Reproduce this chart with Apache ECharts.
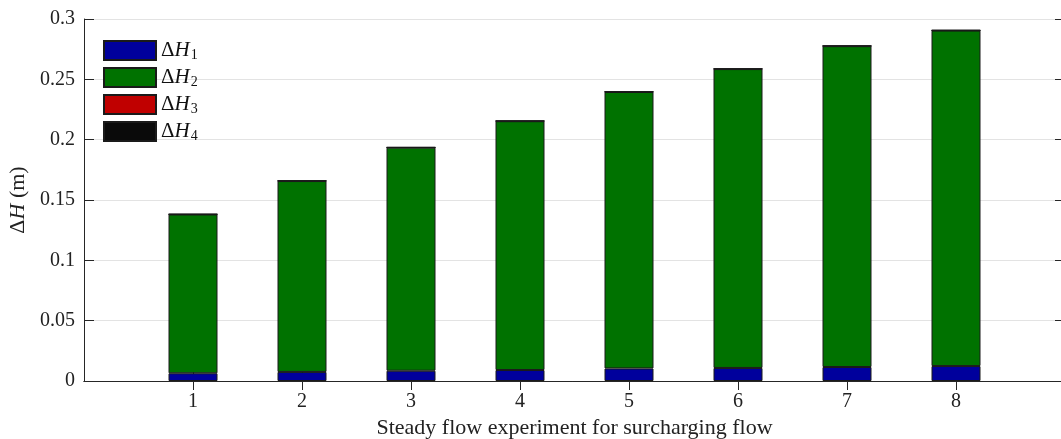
<!DOCTYPE html>
<html lang="en">
<head>
    <meta charset="utf-8">
    <title>dH stacked</title>
    <script src="https://cdn.jsdelivr.net/npm/echarts@6/dist/echarts.min.js"></script>
    <style>
        html, body { margin: 0; padding: 0; background: #fff; }
        #chartBar { width: 1061px; height: 439px; }
    </style>
</head>
<body>
<div id="chartBar"></div>

<script>
    // categories 0..9, only 1..8 carry bars
    var cats = ['0', '1', '2', '3', '4', '5', '6', '7', '8', '9'];
    var dH1 = [null, 0.0064, 0.0075, 0.0085, 0.0091, 0.0104, 0.0108, 0.0116, 0.0124, null];
    var dH2 = [null, 0.1316, 0.1582, 0.1849, 0.2062, 0.2291, 0.2477, 0.2659, 0.2780, null];
    var dH3 = [null, 0.0001, 0.0001, 0.0001, 0.0001, 0.0001, 0.0001, 0.0001, 0.0001, null];
    var dH4 = [null, 0.0003, 0.0003, 0.0003, 0.0003, 0.0003, 0.0003, 0.0003, 0.0004, null];
    var yTicks = [0, 0.05, 0.1, 0.15, 0.2, 0.25, 0.3];

    var font = 'Liberation Serif';
    var axisCol = '#262626';

    var chartBar = echarts.init(document.getElementById('chartBar'));

    function tickOn(i) { return i >= 1 && i <= 8; }

    function makeBar(name, data, color) {
        return {
            name: name,
            type: 'bar',
            stack: 'h',
            data: data,
            barWidth: 49,
            itemStyle: { color: color, borderColor: '#1a1a1a', borderWidth: 1 }
        };
    }

    chartBar.setOption({
        animation: false,
        grid: { left: 84, right: -4, top: 19, bottom: 58, outerBoundsMode: 'none' },
        legend: {
            orient: 'vertical',
            left: 98,
            top: 35,
            icon: 'rect',
            itemWidth: 52,
            itemHeight: 19,
            itemGap: 5,
            data: ['1', '2', '3', '4'],
            formatter: function (n) {
                return '{d|Δ}{i|H}{s|' + n + '}';
            },
            textStyle: {
                fontFamily: font,
                color: '#111',
                rich: {
                    d: { fontFamily: font, fontSize: 21, color: '#111' },
                    i: { fontFamily: font, fontSize: 21, fontStyle: 'italic', color: '#111' },
                    s: { fontFamily: font, fontSize: 14, color: '#111', padding: [9, 0, 0, 1] }
                }
            }
        },
        xAxis: [
            {
                type: 'category',
                data: cats,
                boundaryGap: false,
                position: 'bottom',
                name: 'Steady flow experiment for surcharging flow',
                nameLocation: 'middle',
                nameGap: 35,
                nameTextStyle: { fontFamily: font, fontSize: 22, color: '#222' },
                axisLine: { lineStyle: { color: axisCol, width: 1 } },
                axisTick: { inside: true, length: 9, interval: function (i) { return tickOn(i); }, lineStyle: { color: axisCol } },
                axisLabel: {
                    interval: function (i) { return tickOn(i); },
                    fontFamily: font, fontSize: 20, color: '#222', margin: 11
                },
                splitLine: { show: false }
            },
            {
                type: 'category',
                data: cats,
                boundaryGap: false,
                position: 'top',
                axisLine: { lineStyle: { color: axisCol, width: 1 } },
                axisTick: { inside: true, length: 9, interval: function (i) { return tickOn(i); }, lineStyle: { color: axisCol } },
                axisLabel: { show: false },
                splitLine: { show: false }
            }
        ],
        yAxis: [
            {
                type: 'value',
                min: yTicks[0],
                max: yTicks[yTicks.length - 1],
                interval: 0.05,
                position: 'left',
                name: '{d|Δ}{i|H} (m)',
                nameLocation: 'middle',
                nameGap: 46,
                nameTextStyle: {
                    fontFamily: font, fontSize: 22, color: '#222',
                    rich: {
                        d: { fontFamily: font, fontSize: 22, color: '#222' },
                        i: { fontFamily: font, fontSize: 22, fontStyle: 'italic', color: '#222' }
                    }
                },
                axisLine: { show: true, lineStyle: { color: axisCol, width: 1 } },
                axisTick: { show: true, inside: true, length: 10, lineStyle: { color: axisCol } },
                axisLabel: {
                    fontFamily: font, fontSize: 20, color: '#222', margin: 9,
                    formatter: function (v) { return String(+v.toFixed(2)); }
                },
                splitLine: { show: true, lineStyle: { color: '#e3e3e3', width: 1 } }
            },
            {
                type: 'value',
                min: yTicks[0],
                max: yTicks[yTicks.length - 1],
                interval: 0.05,
                position: 'right',
                axisLine: { show: true, lineStyle: { color: axisCol, width: 1 } },
                axisTick: { show: true, inside: true, length: 10, lineStyle: { color: axisCol } },
                axisLabel: { show: false },
                splitLine: { show: false }
            }
        ],
        series: [
            makeBar('1', dH1, '#00009c'),
            makeBar('2', dH2, '#007200'),
            makeBar('3', dH3, '#c00000'),
            makeBar('4', dH4, '#0a0a0a')
        ]
    });
</script>
</body>
</html>
